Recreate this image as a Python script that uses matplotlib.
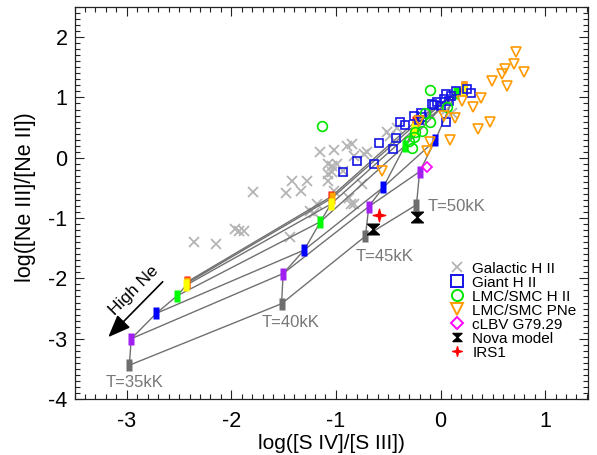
import numpy as np
import matplotlib
matplotlib.use("Agg")
import matplotlib.pyplot as plt
from matplotlib.path import Path
from matplotlib.lines import Line2D
from matplotlib.ticker import MultipleLocator

plt.rcParams['font.family'] = ['Liberation Sans', 'DejaVu Sans']
plt.rcParams['axes.unicode_minus'] = False

# Galactic H II regions
gal_x = [-2.354, -2.146, -1.97, -1.93, -1.88, -1.79, -1.474, -1.42, -1.33, -1.28,
         -1.435, -1.244, -1.18, -1.148, -1.014, -0.89, -0.845, -1.08, -1.036, -0.99,
         -1.08, -1.036, -0.93, -1.08, -0.83, -0.73, -0.88, -0.83, -0.75, -1.02,
         -0.51, -0.48, -0.415, -0.86, -0.096, 0.11, -0.70, -1.21, -0.20, 0.05]
gal_y = [-1.40, -1.43, -1.18, -1.21, -1.21, -0.575, -0.59, -0.38, -0.55, -0.38,
         -1.31, -0.88, -0.77, 0.09, 0.13, 0.20, 0.23, -0.105, -0.13, -0.10,
         -0.27, -0.24, -0.215, -0.38, 0.03, 0.06, -0.66, -0.77, -0.44, -0.55,
         0.42, 0.365, 0.50, -0.77, 0.72, 0.75, 0.09, -0.91, 0.62, 0.80]

# Giant H II regions
giant_x = [-0.935, -0.80, -0.64, -0.59, -0.43, -0.456, -0.383, -0.335, -0.255, -0.19,
           -0.175, -0.064, -0.03, 0.0, 0.048, 0.048, 0.096, 0.144, 0.255, 0.287,
           0.03, 0.08, -0.08, -0.21]
giant_y = [-0.24, -0.05, -0.105, 0.24, 0.33, 0.15, 0.585, 0.55, 0.70, 0.75,
           0.67, 0.88, 0.92, 0.86, 0.585, 1.06, 1.03, 1.11, 1.14, 1.08,
           0.97, 0.945, 0.89, 0.63]

# LMC/SMC H II regions
lmc_hii_x = [-1.13, -0.096, 0.064, -0.144, -0.10, -0.175, -0.255, -0.27, -0.24, -0.30]
lmc_hii_y = [0.52, 1.12, 0.85, 0.75, 0.60, 0.45, 0.34, 0.17, 0.42, 0.28]

# LMC/SMC planetary nebulae
pne_x = [0.718, 0.70, 0.612, 0.59, 0.80, 0.495, 0.638, 0.383, 0.313, 0.208,
         0.137, 0.472, 0.36, 0.09, 0.03, -0.096, -0.127, -0.21, -0.56]
pne_y = [1.76, 1.55, 1.47, 1.39, 1.43, 1.28, 1.19, 0.99, 0.845, 0.945,
         0.655, 0.60, 0.475, 0.29, 0.70, 0.255, 0.105, 0.61, -0.215]

# single objects
lbv_x, lbv_y = [-0.134], [-0.16]
nova_x, nova_y = [-0.648, -0.223], [-1.18, -0.98]
irs1_x, irs1_y = [-0.584], [-0.945]

# photoionisation model grid: one row per stellar temperature,
# one column per Ne abundance step
temps = ['T=35kK', 'T=40kK', 'T=45kK', 'T=50kK']
model_x = [[-2.976, -2.957, -2.718, -2.52, -2.43, -2.425, -2.425],
           [-1.52, -1.505, -1.304, -1.148, -1.05, -1.04, -1.045],
           [-0.718, -0.686, -0.548, -0.34, -0.25, -0.24, -0.24],
           [-0.23, -0.20, -0.05, 0.144, 0.225, 0.225, 0.225]]
model_y = [[-3.44, -3.00, -2.58, -2.29, -2.11, -2.08, -2.06],
           [-2.42, -1.92, -1.53, -1.06, -0.77, -0.67, -0.645],
           [-1.30, -0.81, -0.49, 0.20, 0.47, 0.55, 0.60],
           [-0.78, -0.23, 0.29, 1.08, 1.13, 1.17, 1.18]]
level_colors = ['#6e6e6e', '#a020f0', '#0000ff', '#00ff00', '#ffff00', '#ffa500', '#ff0000']
label_pos = [(-3.206, -3.73), (-1.706, -2.73), (-0.813, -1.64), (-0.128, -0.81)]

# custom marker shapes
bar_marker = Path([(-0.245, -0.5), (0.245, -0.5), (0.245, 0.5), (-0.245, 0.5), (-0.245, -0.5)],
                  [Path.MOVETO, Path.LINETO, Path.LINETO, Path.LINETO, Path.CLOSEPOLY])
hourglass = Path([(-0.5, 0.45), (0.5, 0.45), (0, 0), (0.5, -0.45), (-0.5, -0.45), (0, 0), (-0.5, 0.45)],
                 [Path.MOVETO, Path.LINETO, Path.LINETO, Path.LINETO, Path.LINETO, Path.LINETO,
                  Path.CLOSEPOLY])
ang = np.deg2rad(np.arange(0, 360, 45) + 90)
rad = np.where(np.arange(8) % 2 == 0, 0.5, 0.14)
star_verts = list(zip(rad * np.cos(ang), rad * np.sin(ang))) + [(0, 0.5)]
star4 = Path(star_verts, [Path.MOVETO] + [Path.LINETO] * 7 + [Path.CLOSEPOLY])

fig = plt.figure(figsize=(5.97, 4.55), dpi=100)
ax = fig.add_axes([0.1248, 0.1231, 0.8601, 0.8615])

ax.plot(gal_x, gal_y, 'x', color='#b4b4b4', ms=6.8, mew=1.3, zorder=1)

# model grid lines: constant abundance across temperature, and along each temperature
mx = np.array(model_x)
my = np.array(model_y)
for j in range(mx.shape[1]):
    ax.plot(mx[:, j], my[:, j], color='#707070', lw=1.0, zorder=2)
for i in range(mx.shape[0]):
    ax.plot(mx[i], my[i], color='#707070', lw=1.0, zorder=2)
for j in reversed(range(mx.shape[1])):
    ax.plot(mx[:, j], my[:, j], linestyle='none', marker=bar_marker, ms=8.4,
            mfc=level_colors[j], mec='none', zorder=3)
for (tx, ty), lab in zip(label_pos, temps):
    ax.text(tx, ty, lab, color='#777777', fontsize=12, ha='left', va='center', zorder=4)

ax.plot(giant_x, giant_y, 's', mfc='none', mec='#1414e6', ms=6.3, mew=1.2, zorder=5)
ax.plot(lmc_hii_x, lmc_hii_y, 'o', mfc='none', mec='#00e600', ms=7.0, mew=1.2, zorder=5)
ax.plot(pne_x, pne_y, 'v', mfc='none', mec='#ff9a00', ms=7.2, mew=1.2, zorder=5)
ax.plot(lbv_x, lbv_y, 'D', mfc='none', mec='#ff00ff', ms=5.0, mew=1.2, zorder=6)
ax.plot(nova_x, nova_y, linestyle='none', marker=hourglass, ms=8.5, color='k', zorder=6)
ax.plot(irs1_x, irs1_y, linestyle='none', marker=star4, ms=9.0, color='#ff0000', zorder=6)

# abundance direction arrow
ax.annotate('', xy=(-3.196, -3.007), xytext=(-2.638, -2.023),
            arrowprops=dict(arrowstyle='-|>,head_length=0.55,head_width=0.22',
                            color='k', lw=1.2, mutation_scale=25), zorder=6)
ax.text(-2.935, -2.205, 'High Ne', rotation=45, rotation_mode='anchor',
        ha='center', va='center', fontsize=12.5, color='k')

ax.set_xlim(-3.5, 1.41)
ax.set_ylim(-4.0, 2.5)
ax.xaxis.set_major_locator(MultipleLocator(1))
ax.xaxis.set_minor_locator(MultipleLocator(0.1))
ax.yaxis.set_major_locator(MultipleLocator(1))
ax.yaxis.set_minor_locator(MultipleLocator(0.1))
ax.tick_params(which='both', direction='in', top=True, right=True, width=0.8, colors='#222222')
ax.tick_params(which='major', length=6.5, labelsize=15.5, labelcolor='k')
ax.tick_params(which='minor', length=3.5)
ax.tick_params(axis='x', which='major', pad=9)
ax.tick_params(axis='y', which='major', pad=5)
for sp in ax.spines.values():
    sp.set_linewidth(0.9)
    sp.set_color('#222222')

ax.set_xlabel('log([S IV]/[S III])', fontsize=15)
ax.set_ylabel('log([Ne III]/[Ne II])', fontsize=15.5)
ax.xaxis.set_label_coords(0.5, -0.09)
ax.yaxis.set_label_coords(-0.075, 0.515)

handles = [
    Line2D([], [], linestyle='none', marker='x', color='#b4b4b4', ms=7.5, mew=1.3),
    Line2D([], [], linestyle='none', marker='s', mfc='none', mec='#1414e6', ms=8, mew=1.4),
    Line2D([], [], linestyle='none', marker='o', mfc='none', mec='#00e600', ms=8, mew=1.4),
    Line2D([], [], linestyle='none', marker='v', mfc='none', mec='#ff9a00', ms=8.5, mew=1.4),
    Line2D([], [], linestyle='none', marker='D', mfc='none', mec='#ff00ff', ms=5.8, mew=1.4),
    Line2D([], [], linestyle='none', marker=hourglass, color='k', ms=6.5),
    Line2D([], [], linestyle='none', marker=star4, color='#ff0000', ms=7),
]
labels = ['Galactic H II', 'Giant H II', 'LMC/SMC H II', 'LMC/SMC PNe',
          'cLBV G79.29', 'Nova model', 'IRS1']
ax.legend(handles, labels, loc='upper left', bbox_to_anchor=(0.730, 0.350),
          frameon=False, fontsize=11, handlelength=1.0, handletextpad=0.5,
          labelspacing=0.0, borderpad=0.0, borderaxespad=0.0)

fig.savefig('out.png', dpi=100)
